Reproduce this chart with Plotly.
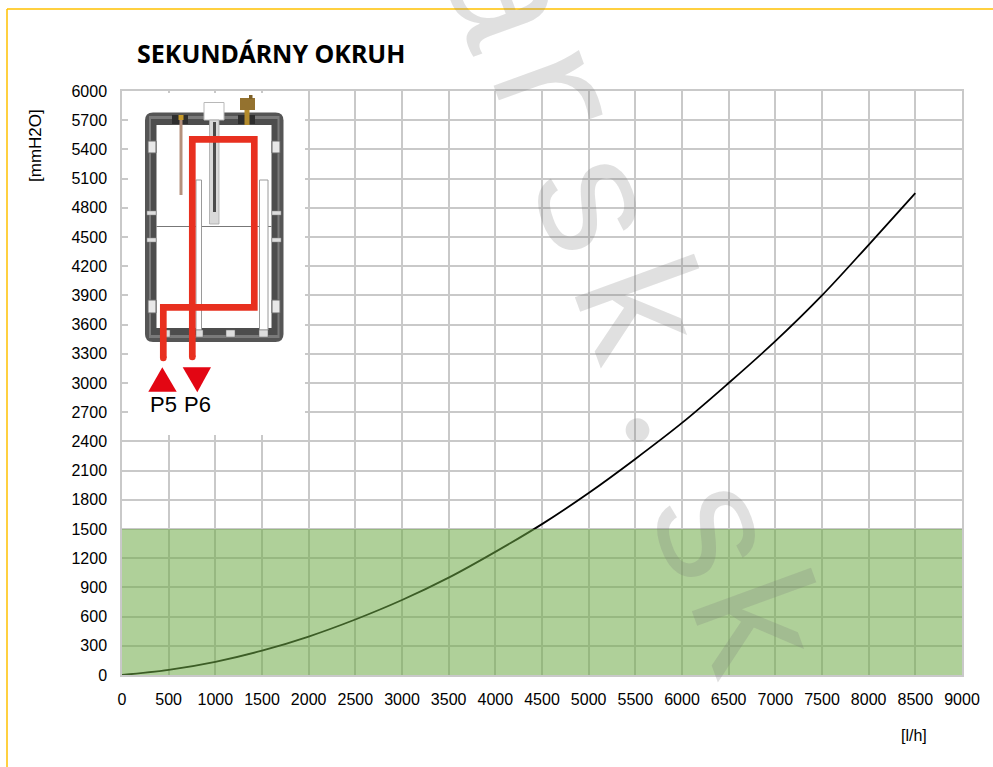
import plotly.graph_objects as go

flow = [0, 500, 1000, 1500, 2000, 2500, 3000, 3500, 4000, 4500, 5000, 5500, 6000, 6500, 7000, 7500, 8000, 8500]
head = [0, 52, 135, 250, 395, 570, 770, 1000, 1265, 1550, 1870, 2220, 2590, 3000, 3430, 3900, 4420, 4950]
x_ticks = list(range(0, 9001, 500))
y_ticks = list(range(0, 6001, 300))
title_text = "SEKUNDÁRNY OKRUH"
y_unit = "[mmH2O]"
x_unit = "[l/h]"
band_top = 1500

W, H = 993, 767
L, T, R, B = 122, 91, 962, 675


def fx(p):
    return (p - L) / (R - L)


def fy(p):
    return (B - p) / (B - T)


def rect(x0, y0, x1, y1, fill, line=None, lw=0):
    return dict(type="rect", xref="paper", yref="paper", x0=fx(x0), x1=fx(x1), y0=fy(y0), y1=fy(y1),
                fillcolor=fill, line=dict(color=line or fill, width=lw), layer="above")


def path(points, fill=None, line=None, lw=0, close=False):
    d = "M " + " L ".join(f"{fx(a):.5f},{fy(b):.5f}" for a, b in points) + (" Z" if close else "")
    return dict(type="path", xref="paper", yref="paper", path=d, fillcolor=fill or "rgba(0,0,0,0)",
                line=dict(color=line or "rgba(0,0,0,0)", width=lw), layer="above")


def disc(cx, cy, r, fill):
    return dict(type="circle", xref="paper", yref="paper", x0=fx(cx - r), x1=fx(cx + r), y0=fy(cy - r), y1=fy(cy + r),
                fillcolor=fill, line=dict(width=0), layer="above")


def rounded(x0, y0, x1, y1, r, fill):
    d = (f"M {fx(x0+r):.5f},{fy(y0):.5f} L {fx(x1-r):.5f},{fy(y0):.5f} Q {fx(x1):.5f},{fy(y0):.5f} {fx(x1):.5f},{fy(y0+r):.5f} "
         f"L {fx(x1):.5f},{fy(y1-r):.5f} Q {fx(x1):.5f},{fy(y1):.5f} {fx(x1-r):.5f},{fy(y1):.5f} "
         f"L {fx(x0+r):.5f},{fy(y1):.5f} Q {fx(x0):.5f},{fy(y1):.5f} {fx(x0):.5f},{fy(y1-r):.5f} "
         f"L {fx(x0):.5f},{fy(y0+r):.5f} Q {fx(x0):.5f},{fy(y0):.5f} {fx(x0+r):.5f},{fy(y0):.5f} Z")
    return dict(type="path", xref="paper", yref="paper", path=d, fillcolor=fill, line=dict(width=0), layer="above")


fig = go.Figure(go.Scatter(x=flow, y=head, mode="lines", line=dict(color="#000000", width=1.8, shape="spline"),
                           hoverinfo="skip", showlegend=False))

shapes = [
    dict(type="rect", xref="x", yref="y", x0=0, x1=9000, y0=0, y1=band_top, fillcolor="rgba(110,170,70,0.55)",
         line=dict(width=0), layer="above"),
    # inset panel
    rect(128, 93, 305, 435, "#ffffff"),
    rounded(145, 112.5, 283.5, 342, 8, "#555555"),
    rect(149, 116, 279.5, 338, "#7a7a7a"),
    rect(151, 119, 277.5, 335, "#4d4d4d"),
    rect(156.5, 125, 271.5, 328, "#ffffff"),
    rect(172, 115, 188, 124, "#2e2e2e"),
    rect(238, 115, 255, 124, "#2e2e2e"),
    rect(179.5, 117, 182.5, 195, "#b5917c"),
    rect(178.5, 115, 183.5, 120, "#c79a2a"),
    rect(204, 102.5, 224, 120, "#ffffff", "#b8b8b8", 1),
    rect(209.5, 120, 219, 224, "#d9d9d9", "#a8a8a8", 0.8),
    rect(213, 122, 216, 212, "#4a4a4a"),
    rect(156.5, 226, 271.5, 227, "#777777"),
    rect(196, 180, 201.5, 330, "#ffffff", "#9a9a9a", 1),
    rect(259.5, 180, 268, 330, "#ffffff", "#9a9a9a", 1),
    rect(240, 98, 255, 110, "#94722f"),
    rect(249, 95, 252.5, 99, "#7e6128"),
    rect(244.5, 110, 249.5, 125, "#b38b2d"),
    rect(148, 141, 156, 153, "#e8e8e8", "#666666", 1),
    rect(272, 141, 280, 153, "#e8e8e8", "#666666", 1),
    rect(148, 300, 156, 313, "#e8e8e8", "#666666", 1),
    rect(272, 300, 280, 313, "#e8e8e8", "#666666", 1),
    rect(147, 211, 156, 215, "#dddddd", "#888888", 0.5),
    rect(272, 211, 281, 215, "#dddddd", "#888888", 0.5),
    rect(147, 238, 156, 242, "#dddddd", "#888888", 0.5),
    rect(272, 238, 281, 242, "#dddddd", "#888888", 0.5),
    rect(161, 330, 170, 337, "#dddddd", "#666666", 0.5),
    rect(196, 330, 203, 337, "#dddddd", "#666666", 0.5),
    rect(226, 330, 235, 337, "#dddddd", "#666666", 0.5),
    rect(259, 330, 268, 337, "#dddddd", "#666666", 0.5),
    # flow path
    path([(192.3, 357), (192.3, 139.3), (254.3, 139.3), (254.3, 307.3), (163.3, 307.3), (163.3, 358)],
         line="#e8301f", lw=6.7),
    disc(192.3, 357, 3.3, "#e8301f"),
    disc(163.3, 358, 3.3, "#e8301f"),
    path([(148.3, 391.7), (176.7, 391.7), (162.3, 367.3)], fill="#e30613", close=True),
    path([(182.7, 367.3), (211, 367.3), (197.3, 392.3)], fill="#e30613", close=True),
    # page frame
    dict(type="line", xref="paper", yref="paper", x0=fx(7), x1=fx(993), y0=fy(9), y1=fy(9),
         line=dict(color="#ffc000", width=1.5), layer="above"),
    dict(type="line", xref="paper", yref="paper", x0=fx(7), x1=fx(7), y0=fy(9), y1=fy(767),
         line=dict(color="#ffc000", width=1.5), layer="above"),
]


def label(px, py, text, size, font="Liberation Sans", color="#000000", angle=0, bold=False):
    t = f"<b>{text}</b>" if bold else text
    return dict(xref="paper", yref="paper", x=fx(px), y=fy(py), text=t, showarrow=False, xanchor="center",
                yanchor="middle", textangle=angle, font=dict(family=font, size=size, color=color))


wm = "rgba(120,120,120,0.23)"
wm_font = "Liberation Mono"
annotations = [
    label(271, 53, title_text, 25, font="Noto Sans", bold=True),
    label(35, 146, y_unit, 17, angle=-90),
    label(914, 735, x_unit, 16),
    label(163.5, 404, "P5", 22),
    label(197.5, 404, "P6", 22),
    label(500, -3, "a", 175, wm_font, wm, 70),
    label(547, 95, "r", 175, wm_font, wm, 70),
    label(588, 205, "s", 175, wm_font, wm, 70),
    label(630, 311, "k", 175, wm_font, wm, 70),
    label(693, 410, ".", 200, "Liberation Serif", wm, 70),
    label(707, 532, "s", 175, wm_font, wm, 70),
    label(747, 625, "k", 175, wm_font, wm, 70),
]

fig.update_layout(
    width=W, height=H, autosize=False,
    margin=dict(l=L, r=W - R, t=T, b=H - B, pad=0),
    paper_bgcolor="#ffffff", plot_bgcolor="#ffffff",
    font=dict(family="Liberation Sans", size=16, color="#000000"),
    shapes=shapes, annotations=annotations, showlegend=False,
    xaxis=dict(range=[0, 9000], tickmode="array", tickvals=x_ticks, showgrid=True, gridcolor="#c9c9c9", gridwidth=1.5,
               zeroline=False, showline=True, linecolor="#c9c9c9", linewidth=1.5, mirror=True,
               ticks="outside", ticklen=9, tickcolor="rgba(0,0,0,0)", tickfont=dict(size=16)),
    yaxis=dict(range=[0, 6000], tickmode="array", tickvals=y_ticks, showgrid=True, gridcolor="#c9c9c9", gridwidth=1.5,
               zeroline=False, showline=True, linecolor="#c9c9c9", linewidth=1.5, mirror=True,
               ticks="outside", ticklen=10, tickcolor="rgba(0,0,0,0)", tickfont=dict(size=16)),
)

fig.write_html("out.html", config=dict(displayModeBar=False),
               post_script="document.body.style.margin='0';document.body.style.overflow='hidden';")
